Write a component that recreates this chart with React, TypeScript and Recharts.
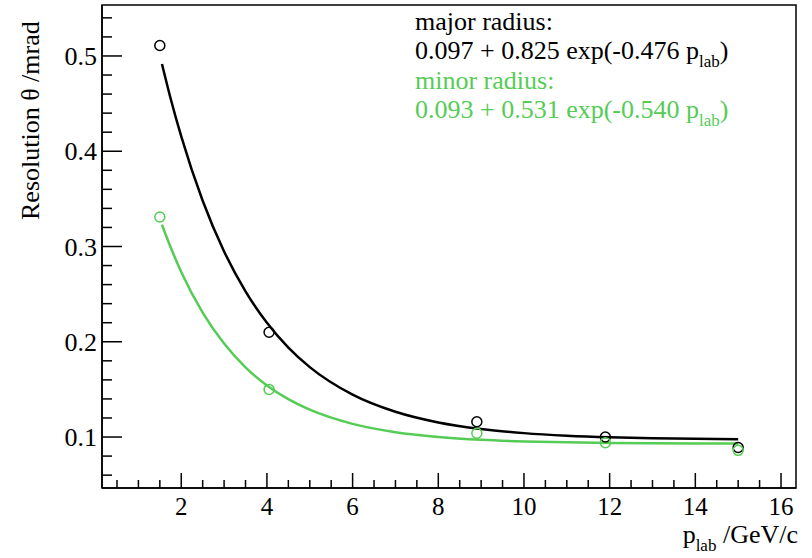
import { ComposedChart, Line, Scatter, XAxis, YAxis, ReferenceArea } from "recharts";

// measured points
const pLab = [1.5, 4.05, 8.9, 11.9, 15.0];
const majorRes = [0.511, 0.21, 0.116, 0.1, 0.089];
const minorRes = [0.331, 0.15, 0.104, 0.094, 0.086];

// fit curves
const fitP = [1.55, 1.75, 2, 2.5, 3, 3.5, 4, 4.5, 5, 6, 7, 8, 9, 10, 11, 12, 13, 14, 15];
const majorFit = [0.4915, 0.4556, 0.4155, 0.348, 0.2948, 0.2529, 0.2199, 0.1939, 0.1734, 0.1445, 0.1265, 0.1153, 0.1084, 0.1041, 0.1014, 0.0997, 0.0987, 0.0981, 0.0976];
const minorFit = [0.3229, 0.2994, 0.2733, 0.2306, 0.1981, 0.1732, 0.1542, 0.1397, 0.1287, 0.1138, 0.1051, 0.1001, 0.0971, 0.0954, 0.0944, 0.0938, 0.0935, 0.0933, 0.0932];

const xTicks = [0.5, 1, 1.5, 2, 2.5, 3, 3.5, 4, 4.5, 5, 5.5, 6, 6.5, 7, 7.5, 8, 8.5, 9, 9.5, 10, 10.5, 11, 11.5, 12, 12.5, 13, 13.5, 14, 14.5, 15, 15.5, 16];
const yTicks = [0.06, 0.08, 0.1, 0.12, 0.14, 0.16, 0.18, 0.2, 0.22, 0.24, 0.26, 0.28, 0.3, 0.32, 0.34, 0.36, 0.38, 0.4, 0.42, 0.44, 0.46, 0.48, 0.5, 0.52, 0.54];

const xDomain = [0.15, 16.35];
const yDomain = [0.0465, 0.5535];

const GREEN = "#55cc55";
const FONT = "'Liberation Serif', 'Times New Roman', Times, 'DejaVu Serif', 'Noto Serif', serif";

const majorPts = pLab.map((p, i) => ({ p, v: majorRes[i] }));
const minorPts = pLab.map((p, i) => ({ p, v: minorRes[i] }));
const majorCurve = fitP.map((p, i) => ({ p, v: majorFit[i] }));
const minorCurve = fitP.map((p, i) => ({ p, v: minorFit[i] }));

const XTick = (props: any) => {
  const { x, y, payload } = props;
  const v = payload.value;
  const major = Math.abs(v / 2 - Math.round(v / 2)) < 1e-6;
  return (
    <g>
      <line x1={x} x2={x} y1={y} y2={y - (major ? 15 : 8)} stroke="#000" strokeWidth={1.5} />
      {major && (
        <text x={x} y={y + 27} textAnchor="middle" fontFamily={FONT} fontSize={25} fill="#000">
          {v}
        </text>
      )}
    </g>
  );
};

const YTick = (props: any) => {
  const { x, y, payload } = props;
  const v = payload.value;
  const major = Math.abs(v * 10 - Math.round(v * 10)) < 1e-6;
  return (
    <g>
      <line x1={x} x2={x + (major ? 20 : 10)} y1={y} y2={y} stroke="#000" strokeWidth={1.5} />
      {major && (
        <text x={x - 5} y={y + 9} textAnchor="end" fontFamily={FONT} fontSize={26} fill="#000">
          {v.toFixed(1)}
        </text>
      )}
    </g>
  );
};

const ring = (color: string) => (props: any) =>
  <circle cx={props.cx} cy={props.cy} r={5} fill="none" stroke={color} strokeWidth={1.5} />;

const Sub = ({ children }: { children: string }) => (
  <span style={{ fontSize: 17, position: "relative", top: 8 }}>{children}</span>
);

const lineStyle = { height: 29.3, lineHeight: "29px" };

export default function App() {
  return (
    <div style={{ position: "absolute", left: 0, top: 0, width: 812, height: 558, background: "#fff", fontFamily: FONT }}>
      <ComposedChart width={812} height={558} margin={{ top: 5, right: 16, bottom: 0, left: 0 }}>
        <XAxis
          dataKey="p"
          type="number"
          domain={xDomain}
          ticks={xTicks}
          allowDataOverflow
          height={70}
          tickSize={0}
          tickMargin={0}
          tickLine={false}
          axisLine={{ stroke: "#000", strokeWidth: 1.5 }}
          tick={<XTick />}
          interval={0}
        />
        <YAxis
          dataKey="v"
          type="number"
          domain={yDomain}
          ticks={yTicks}
          allowDataOverflow
          width={102}
          tickSize={0}
          tickMargin={0}
          tickLine={false}
          axisLine={{ stroke: "#000", strokeWidth: 1.5 }}
          tick={<YTick />}
          interval={0}
        />
        <ReferenceArea x1={xDomain[0]} x2={xDomain[1]} y1={yDomain[0]} y2={yDomain[1]} fill="none" stroke="#000" strokeWidth={1.5} />
        <Line data={majorCurve} dataKey="v" type="monotone" stroke="#000" strokeWidth={2.5} dot={false} isAnimationActive={false} />
        <Line data={minorCurve} dataKey="v" type="monotone" stroke={GREEN} strokeWidth={2.5} dot={false} isAnimationActive={false} />
        <Scatter data={majorPts} dataKey="v" shape={ring("#000")} isAnimationActive={false} />
        <Scatter data={minorPts} dataKey="v" shape={ring(GREEN)} isAnimationActive={false} />
      </ComposedChart>

      <div style={{ position: "absolute", left: 415, top: 7, fontSize: 26, whiteSpace: "nowrap" }}>
        <div style={{ ...lineStyle, color: "#000" }}>major radius:</div>
        <div style={{ ...lineStyle, color: "#000" }}>
          0.097 + 0.825 exp(-0.476 p<Sub>lab</Sub>)
        </div>
        <div style={{ ...lineStyle, color: GREEN }}>minor radius:</div>
        <div style={{ ...lineStyle, color: GREEN }}>
          0.093 + 0.531 exp(-0.540 p<Sub>lab</Sub>)
        </div>
      </div>

      <div
        style={{
          position: "absolute",
          left: 32,
          top: 4,
          transformOrigin: "0 0",
          transform: "rotate(-90deg) translate(-216px, -16px)",
          fontSize: 26,
          whiteSpace: "nowrap",
          lineHeight: "30px",
        }}
      >
        Resolution θ /mrad
      </div>

      <div style={{ position: "absolute", right: 14, top: 524, fontSize: 26, whiteSpace: "nowrap", lineHeight: "22px" }}>
        p<Sub>lab</Sub> /GeV/c
      </div>
    </div>
  );
}
